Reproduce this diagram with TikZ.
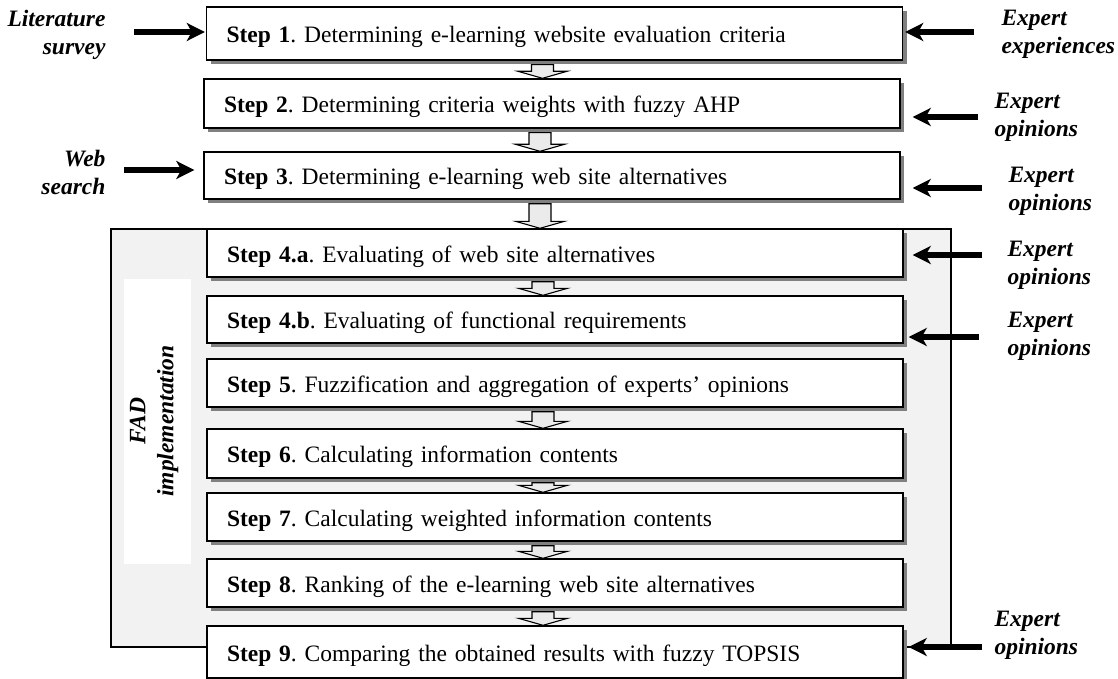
\documentclass[tikz,border=0pt]{standalone}
\usepackage{fontspec}
\setmainfont{Liberation Serif}
\usetikzlibrary{arrows.meta,shadows,calc}
\frenchspacing

\begin{document}
\begin{tikzpicture}[x=1pt, y=-1pt]
    \useasboundingbox (0,0) rectangle (1118,679);

    \tikzset{StepStyle/.style={draw, line width=1.4pt, fill=white, text width=656pt,
        inner xsep=20pt, inner ysep=0pt, align=left, font=\fontsize{23.5}{26}\selectfont,
        text height=19pt, text depth=1pt,
        drop shadow={shadow xshift=4pt, shadow yshift=-4pt, fill=black!50, opacity=1}}}
    \tikzset{SourceStyle/.style={font=\fontsize{23.5}{28}\selectfont\bfseries\itshape}}
    \tikzset{InStyle/.style={line width=6pt, -{Stealth[length=18pt, width=18pt, inset=5pt]}}}
    \tikzset{FlowStyle/.style={draw, line width=1.1pt, fill=black!8}}

    \draw[line width=1.3pt, fill=black!5] (111,229) rectangle (951,647);
    \fill[white] (124,279) rectangle (191,564);
    \node[SourceStyle, rotate=90, align=center] (FAD) at (154,421) {FAD\\implementation};

    \node[StepStyle, minimum height=53pt] (S1)  at (554.5,33.5) {\textbf{Step 1}. Determining e-learning website evaluation criteria};
    \node[StepStyle, minimum height=49pt] (S2)  at (552,103.5)  {\textbf{Step 2}. Determining criteria weights with fuzzy AHP};
    \node[StepStyle, minimum height=47pt] (S3)  at (552,175.5)  {\textbf{Step 3}. Determining e-learning web site alternatives};
    \node[StepStyle, minimum height=48pt] (S4a) at (555,253)    {\textbf{Step 4.a}. Evaluating of web site alternatives};
    \node[StepStyle, minimum height=47pt] (S4b) at (555,319.5)  {\textbf{Step 4.b}. Evaluating of functional requirements};
    \node[StepStyle, minimum height=48pt] (S5)  at (555,383)    {\textbf{Step 5}. Fuzzification and aggregation of experts' opinions};
    \node[StepStyle, minimum height=49pt] (S6)  at (555,453.5)  {\textbf{Step 6}. Calculating information contents};
    \node[StepStyle, minimum height=48pt] (S7)  at (555,517)    {\textbf{Step 7}. Calculating weighted information contents};
    \node[StepStyle, minimum height=48pt] (S8)  at (555,583)    {\textbf{Step 8}. Ranking of the e-learning web site alternatives};
    \node[StepStyle, minimum height=52pt] (S9)  at (555,652)    {\textbf{Step 9}. Comparing the obtained results with fuzzy TOPSIS};

    \foreach \a/\b in {S1/S2, S2/S3, S3/S4a, S4a/S4b, S5/S6, S6/S7, S7/S8, S8/S9}
        \draw[FlowStyle] let \p1=(\a.south), \p2=(\b.north) in
            (\x1-23pt,\y1-4pt) -- (\x1-1pt,\y1-4pt) -- (\x1-1pt,\y2+7pt) -- (\x1+12.5pt,\y2+7pt)
            -- (\x1-12pt,\y2) -- (\x1-36.5pt,\y2+7pt) -- (\x1-23pt,\y2+7pt) -- cycle;

    \node[SourceStyle, align=right, anchor=east] (Lit) at (109,35)  {Literature\\survey};
    \node[SourceStyle, align=right, anchor=east] (Web) at (109,172) {Web\\search};
    \node[SourceStyle, align=left, anchor=west] (E1)  at (998,34)   {Expert\\experiences};
    \node[SourceStyle, align=left, anchor=west] (E2)  at (991,117)  {Expert\\opinions};
    \node[SourceStyle, align=left, anchor=west] (E3)  at (1005,191) {Expert\\opinions};
    \node[SourceStyle, align=left, anchor=west] (E4a) at (1004,265) {Expert\\opinions};
    \node[SourceStyle, align=left, anchor=west] (E4b) at (1004,336) {Expert\\opinions};
    \node[SourceStyle, align=left, anchor=west] (E9)  at (991,635)  {Expert\\opinions};

    \draw[InStyle, shorten <=25pt, shorten >=1pt] ([yshift=3pt]Lit.east) -- ([yshift=3pt]Lit.east -| S1.west);
    \draw[InStyle, shorten <=15pt, shorten >=9pt] ([yshift=2pt]Web.east) -- ([yshift=2pt]Web.east -| S3.west);
    \draw[InStyle, shorten <=24pt, shorten >=2pt] ([yshift=2pt]E1.west) -- ([yshift=2pt]E1.west -| S1.east);
    \draw[InStyle, shorten <=13pt, shorten >=12pt] (E2.west) -- (E2.west -| S2.east);
    \draw[InStyle, shorten <=23pt, shorten >=12pt] ([yshift=3pt]E3.west) -- ([yshift=3pt]E3.west -| S3.east);
    \draw[InStyle, shorten <=22pt, shorten >=9pt] ([yshift=10pt]E4a.west) -- ([yshift=10pt]E4a.west -| S4a.east);
    \draw[InStyle, shorten <=25pt, shorten >=5pt] ([yshift=-1pt]E4b.west) -- ([yshift=-1pt]E4b.west -| S4b.east);
    \draw[InStyle, shorten <=9pt, shorten >=5pt] ([yshift=-12pt]E9.west) -- ([yshift=-12pt]E9.west -| S9.east);
\end{tikzpicture}
\end{document}
